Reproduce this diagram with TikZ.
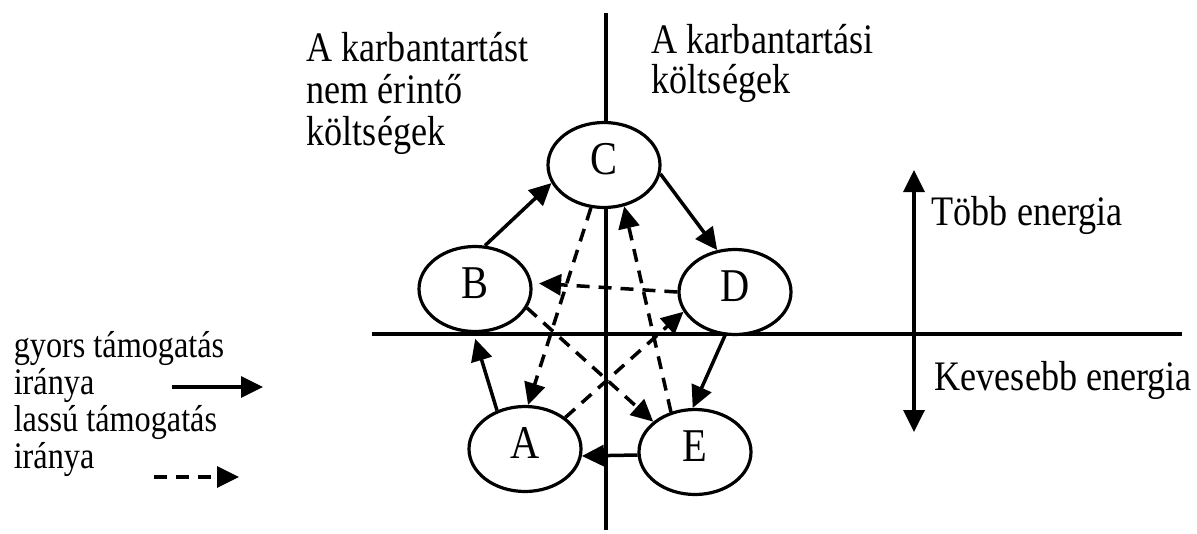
\documentclass[tikz,border=0pt]{standalone}
\usepackage{fontspec}
\setmainfont{Liberation Serif}[FakeStretch=0.86]
\usepackage{tikz}
\usetikzlibrary{arrows.meta,shapes.geometric}

\begin{document}
\begin{tikzpicture}[x=1pt, y=-1pt, line width=3.5pt,
    >={Triangle[length=22pt,width=21pt]},
    allapot/.style={draw, ellipse, fill=white, inner sep=0pt, line width=3.2pt,
        minimum width=112pt, minimum height=85pt, text depth=12pt,
        font=\fontsize{47}{47}\selectfont},
    felirat/.style={anchor=base west, align=left, inner sep=0pt,
        font=\fontsize{42}{42}\selectfont},
    lassu/.style={->, dash pattern=on 13pt off 9pt}]
    \useasboundingbox (0,0) rectangle (1197,533);

    % Tengelyek
    \coordinate (fent) at (606,13);
    \coordinate (lent) at (606,530);
    \coordinate (bal) at (372,334);
    \coordinate (jobb) at (1182,334);
    \draw[line width=3.2pt] (fent) -- (lent);
    \draw[line width=3.2pt] (bal) -- (jobb);

    % Feliratok a tengelyek mellett (base = utolso sor)
    \node[felirat] (nemerinto) at (305,145) {A karbantartást\\nem érintő\\költségek};
    \node[felirat, font=\fontsize{42}{40}\selectfont] (karbkolts) at (650,93) {A karbantartási\\költségek};
    \node[felirat] (tobbtxt) at (930,225) {Több energia};
    \node[felirat] (kevestxt) at (933,390) {Kevesebb energia};

    % Energia nyil
    \coordinate (tobb) at (914,170);
    \coordinate (keves) at (914,432);
    \draw[<->] (keves) -- (tobb);

    % Allapotok
    \foreach \n/\x/\y in {A/525/449, B/475/289, C/604/165, D/735/292, E/695/452} {
        \node[allapot] (\n) at (\x,\y) {\n};
    }

    % Gyors tamogatas (folytonos)
    \draw[->] (B.77) -- (C.199);
    \draw[->] (C.351) -- (D.113);
    \draw[->] (D.257) -- (E.93);
    \draw[->] (E.183) -- (A.353);
    \draw[->, shorten >=6pt] (A.126) -- (B.268);

    % Lassu tamogatas (szaggatott)
    \draw[lassu] (C.253) -- (A.86);
    \draw[lassu] (E.121) -- (C.296);
    \draw[lassu, shorten >=7pt] (D.180) -- (B.6);
    \draw[lassu] (B.340) -- (E.144);
    \draw[lassu] (A.38) -- (D.201);

    % Jelmagyarazat
    \node[felirat, font=\fontsize{37.5}{37}\selectfont] (jelm) at (12,468)
        {gyors támogatás\\iránya\\lassú támogatás\\iránya};
    \coordinate (gy1) at (172,387);
    \coordinate (gy2) at (263,387);
    \coordinate (l1) at (154,477);
    \coordinate (l2) at (239,477);
    \draw[->] (gy1) -- (gy2);
    \draw[lassu] (l1) -- (l2);
\end{tikzpicture}
\end{document}
